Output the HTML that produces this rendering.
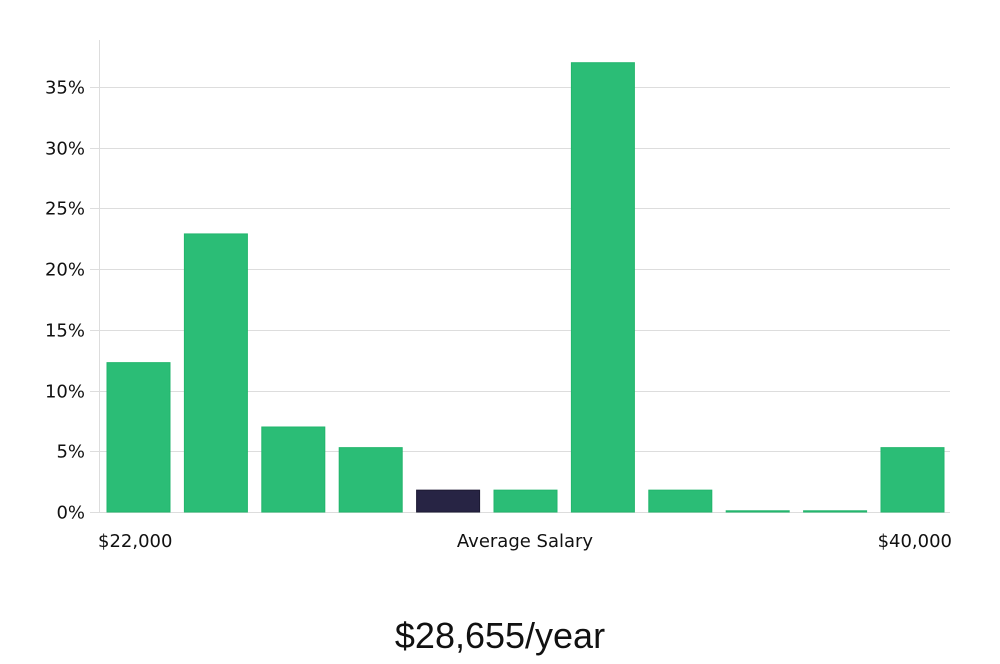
<!DOCTYPE html>
<html><head><meta charset="utf-8"><style>
body{margin:0;background:#fff;width:1000px;height:660px;overflow:hidden;font-family:"DejaVu Sans","Liberation Sans",sans-serif}
</style></head><body>
<svg id="chart" width="1000" height="660">
<g id="grid"></g><g id="bars"></g><g id="labels"></g>
<line x1="99.5" y1="40" x2="99.5" y2="512" stroke="#ddd"/>
<text x="98" y="547" font-size="18" fill="#111">$22,000</text>
<text x="525" y="547" font-size="18" fill="#111" text-anchor="middle">Average Salary</text>
<text x="952" y="547" font-size="18" fill="#111" text-anchor="end">$40,000</text>
<text x="500" y="648" font-size="36" fill="#111" text-anchor="middle" font-family="Liberation Sans, sans-serif">$28,655/year</text>
</svg>
<script>
const values=[12.3,22.9,7.0,5.3,1.8,1.8,37.0,1.8,0.1,0.1,5.3];
const highlight=[false,false,false,false,true,false,false,false,false,false,false];
const yTicks=[0,5,10,15,20,25,30,35];
const yTickLabels=["0%","5%","10%","15%","20%","25%","30%","35%"];
const ns="http://www.w3.org/2000/svg";
const y0=512,pxPer=(512-87)/35;
const yScale=v=>y0-v*pxPer;
const xStart=107,step=77.4,bw=63;
const xScale=i=>xStart+i*step;
const grid=document.getElementById('grid');
yTicks.forEach((t,i)=>{
 const y=Math.round(yScale(t))+0.5;
 const l=document.createElementNS(ns,'line');
 l.setAttribute('x1',90);l.setAttribute('x2',950);l.setAttribute('y1',y);l.setAttribute('y2',y);
 l.setAttribute('stroke','#ddd');
 
 
 grid.appendChild(l);
 const tx=document.createElementNS(ns,'text');
 tx.setAttribute('x',85);tx.setAttribute('y',y+6);tx.setAttribute('text-anchor','end');
 tx.setAttribute('font-size','18');tx.setAttribute('fill','#111');
 tx.textContent=yTickLabels[i];
 
 
 grid.appendChild(tx);
});
const bars=document.getElementById('bars');
values.forEach((v,i)=>{
 const r=document.createElementNS(ns,'rect');
 const top=yScale(v);
 r.setAttribute('x',xScale(i));r.setAttribute('y',top);
 r.setAttribute('width',bw);r.setAttribute('height',Math.max(1,y0-top));
 r.setAttribute('fill',highlight[i]?'#272444':'#2bbd76');
 r.setAttribute('stroke',highlight[i]?'#1c1a33':'#22b56c');
 
 
 bars.appendChild(r);
});
</script>
</body></html>
